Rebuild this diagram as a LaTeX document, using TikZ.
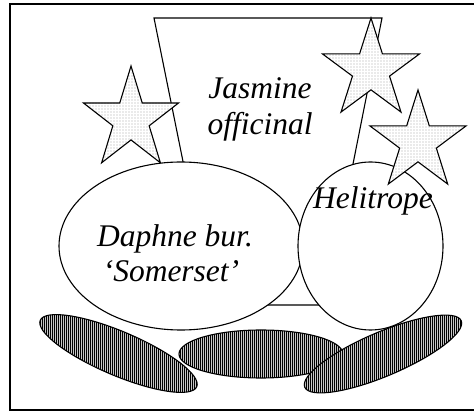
\documentclass[tikz,border=0pt]{standalone}
\usepackage{fontspec}
\setmainfont{Liberation Serif}
\usetikzlibrary{patterns.meta}
\tikzset{
  outline/.style={line width=1.1pt, line join=miter},
  starfill/.style={outline, preaction={fill=white},
    pattern={Dots[distance=3pt, radius=0.4pt]}},
  leafhatch/.style={outline, preaction={fill=gray!45},
    pattern={Lines[angle=90, distance=2pt, line width=0.9pt]}},
  plantname/.style={inner sep=0pt, anchor=base,
    font=\fontsize{31.5}{36}\selectfont\itshape},
}
\begin{document}
\begin{tikzpicture}[x=1pt,y=1pt]
  \useasboundingbox (0,0) rectangle (474,412);
  \clip (0,0) rectangle (474,412);
  % frame
  \draw[line width=1.5pt] (10,2) rectangle (490,408);
  % jasmine pot
  \draw[outline, fill=white] (154,394) -- (382,394) -- (325,107) -- (212,107) -- cycle;
  % stars
  \draw[starfill, shift={(131,292.5)}, x=50pt, y=53.5pt]
    (90:1) -- (126:0.382) -- (162:1) -- (198:0.382) -- (234:1) -- (270:0.382)
    -- (306:1) -- (342:0.382) -- (18:1) -- (54:0.382) -- cycle;
  \draw[starfill, shift={(371,342)}, x=51pt, y=52pt]
    (90:1) -- (126:0.382) -- (162:1) -- (198:0.382) -- (234:1) -- (270:0.382)
    -- (306:1) -- (342:0.382) -- (18:1) -- (54:0.382) -- cycle;
  % ellipses
  \draw[outline, fill=white] (181,166) ellipse (122 and 84);
  \draw[outline, fill=white] (370.5,166) ellipse (72.5 and 84);
  \draw[starfill, shift={(418,270)}, x=50.5pt, y=52pt]
    (90:1) -- (126:0.382) -- (162:1) -- (198:0.382) -- (234:1) -- (270:0.382)
    -- (306:1) -- (342:0.382) -- (18:1) -- (54:0.382) -- cycle;
  % leaves
  \draw[leafhatch] (261,58) ellipse (82 and 24);
  \draw[leafhatch, rotate around={-23:(118.5,58.5)}] (118.5,58.5) ellipse (85 and 22);
  \draw[leafhatch, rotate around={23:(383,58)}] (383,58) ellipse (85 and 22);
  % labels
  \node[plantname] (jasmine) at (260,313) {Jasmine};
  \node[plantname] (officinal) at (260,277) {officinal};
  \node[plantname] (daphne) at (175,165) {Daphne bur.};
  \node[plantname] (somerset) at (171,130) {‘Somerset’};
  \node[plantname] (helitrope) at (373,203) {Helitrope};
\end{tikzpicture}
\end{document}
